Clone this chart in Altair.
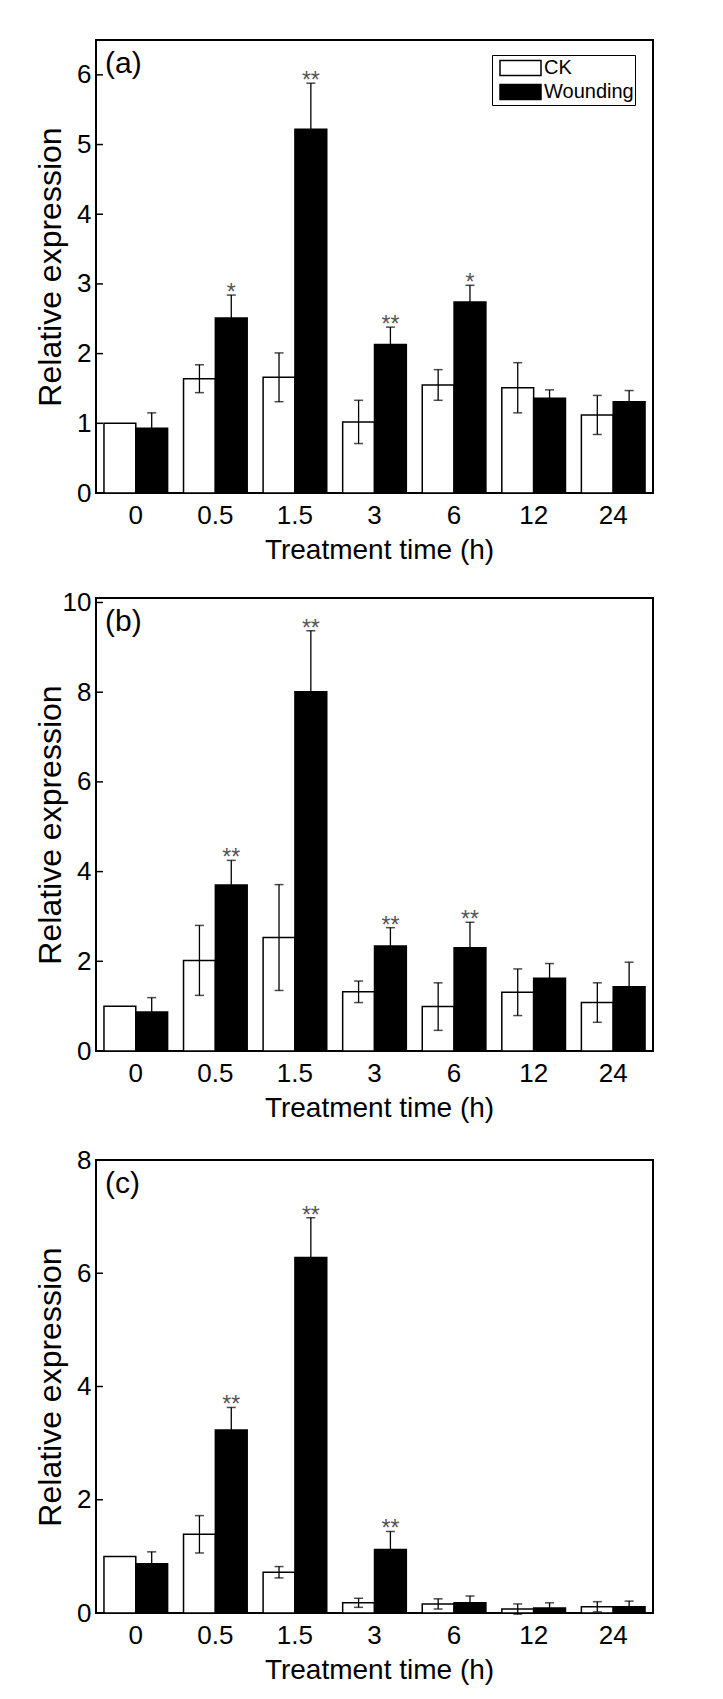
import altair as alt
import pandas as pd

times = ["0", "0.5", "1.5", "3", "6", "12", "24"]
series = ["CK", "Wounding"]

a_ck = [1.00, 1.64, 1.66, 1.02, 1.55, 1.51, 1.12]
a_ck_err = [0.0, 0.20, 0.35, 0.31, 0.22, 0.36, 0.28]
a_w = [0.93, 2.51, 5.22, 2.13, 2.74, 1.36, 1.31]
a_w_err = [0.22, 0.33, 0.66, 0.25, 0.24, 0.12, 0.16]
a_sig = ["", "*", "**", "**", "*", "", ""]
a_ticks = [0, 1, 2, 3, 4, 5, 6]

b_ck = [1.00, 2.02, 2.53, 1.32, 0.99, 1.31, 1.08]
b_ck_err = [0.0, 0.78, 1.18, 0.24, 0.53, 0.52, 0.44]
b_w = [0.87, 3.70, 8.01, 2.34, 2.30, 1.62, 1.43]
b_w_err = [0.32, 0.55, 1.36, 0.41, 0.57, 0.33, 0.55]
b_sig = ["", "**", "**", "**", "**", "", ""]
b_ticks = [0, 2, 4, 6, 8, 10]

c_ck = [1.00, 1.39, 0.72, 0.18, 0.16, 0.07, 0.11]
c_ck_err = [0.0, 0.33, 0.10, 0.08, 0.09, 0.09, 0.09]
c_w = [0.87, 3.23, 6.28, 1.12, 0.18, 0.09, 0.11]
c_w_err = [0.21, 0.40, 0.70, 0.32, 0.12, 0.09, 0.10]
c_sig = ["", "**", "**", "**", "", "", ""]
c_ticks = [0, 2, 4, 6, 8]

W, H = 557, 453
FONT = "Liberation Sans, Arial, sans-serif"


def panel(label, ck, ck_err, w, w_err, sig, ymax, ticks, show_legend):
    rows = []
    for i, t in enumerate(times):
        rows.append(dict(time=t, series="CK", value=ck[i], err=ck_err[i], sig=""))
        rows.append(dict(time=t, series="Wounding", value=w[i], err=w_err[i], sig=sig[i]))
    df = pd.DataFrame(rows)
    df["lo"] = df["value"] - df["err"]
    df["hi"] = df["value"] + df["err"]

    base = alt.Chart(df)
    xscale = alt.Scale(paddingInner=0.2, paddingOuter=0.1)
    xaxis = alt.Axis(labelAngle=0, labelPadding=9, title="Treatment time (h)",
                     titleY=43, titleBaseline="top", titleX=283)
    x_enc = alt.X("time:N", sort=times, scale=xscale, axis=xaxis)
    xo = alt.XOffset("series:N", sort=series, scale=alt.Scale(paddingInner=0, paddingOuter=0))
    yscale = alt.Scale(domain=[0, ymax], nice=False, zero=True)
    yaxis = alt.Axis(values=ticks, title="Relative expression", titleFontSize=32,
                     titleX=-46, titleY=H / 2, titleAngle=270, titleAlign="center",
                     titleBaseline="middle", labelPadding=5)

    def Y(field):
        return alt.Y(field, scale=yscale, axis=yaxis)

    if show_legend:
        legend = alt.Legend(orient="none", legendX=396, legendY=15, title=None,
                            symbolType="M-1,-0.366H1V0.366H-1Z", symbolSize=1681,
                            symbolStrokeColor="black", symbolStrokeWidth=1.5,
                            clipHeight=24, labelFont=FONT,
                            labelFontSize=20, labelOffset=2, labelColor="black",
                            padding=1, rowPadding=0, symbolOffset=6,
                            strokeColor="black", fillColor="white")
    else:
        legend = None

    bars = base.mark_bar(stroke="black", strokeWidth=1.5).encode(
        x=x_enc, xOffset=xo, y=Y("value:Q"),
        fill=alt.Fill("series:N", sort=series,
                      scale=alt.Scale(domain=series, range=["white", "black"]), legend=legend),
    )
    eb = base.transform_filter("datum.err > 0")
    rule = eb.mark_rule(color="black", strokeWidth=1.3).encode(
        x=x_enc, xOffset=xo, y=Y("lo:Q"), y2="hi:Q")
    cap_hi = eb.mark_tick(color="black", size=9, thickness=1.5).encode(
        x=x_enc, xOffset=xo, y=Y("hi:Q"))
    cap_lo = eb.mark_tick(color="black", size=9, thickness=1.5).encode(
        x=x_enc, xOffset=xo, y=Y("lo:Q"))
    stars = base.transform_filter("datum.sig != ''").mark_text(
        baseline="alphabetic", dy=5, fontSize=23, color="#555555", font=FONT).encode(
        x=x_enc, xOffset=xo, y=Y("hi:Q"), text="sig:N")
    tick_marks = alt.Chart(pd.DataFrame({"t": ticks})).mark_rule(
        color="black", strokeWidth=1.5).encode(
        y=Y("t:Q"), x=alt.value(0), x2=alt.value(7))
    lab = alt.Chart(pd.DataFrame({"lab": [label]})).mark_text(
        align="left", baseline="middle", fontSize=30, font=FONT, color="black").encode(
        x=alt.value(9), y=alt.value(24), text="lab:N")

    return alt.layer(bars, rule, cap_hi, cap_lo, stars, tick_marks, lab).properties(width=W, height=H)


pa = panel("(a)", a_ck, a_ck_err, a_w, a_w_err, a_sig, 6.5, a_ticks, True)
pb = panel("(b)", b_ck, b_ck_err, b_w, b_w_err, b_sig, 10.1, b_ticks, False)
pc = panel("(c)", c_ck, c_ck_err, c_w, c_w_err, c_sig, 8.0, c_ticks, False)

chart = alt.vconcat(pa, pb, pc, spacing=23).resolve_scale(
    fill="independent", y="independent"
).properties(
    padding={"left": 24, "top": 31, "right": 5, "bottom": 5}
).configure_view(
    stroke="black", strokeWidth=2
).configure_axis(
    labelFont=FONT, titleFont=FONT, labelColor="black", titleColor="black",
    labelFontSize=26, titleFontSize=28, tickSize=0, domain=False, grid=False,
    titleFontWeight="normal"
)

chart.save("out.html", embed_options={"renderer": "svg", "actions": False})
